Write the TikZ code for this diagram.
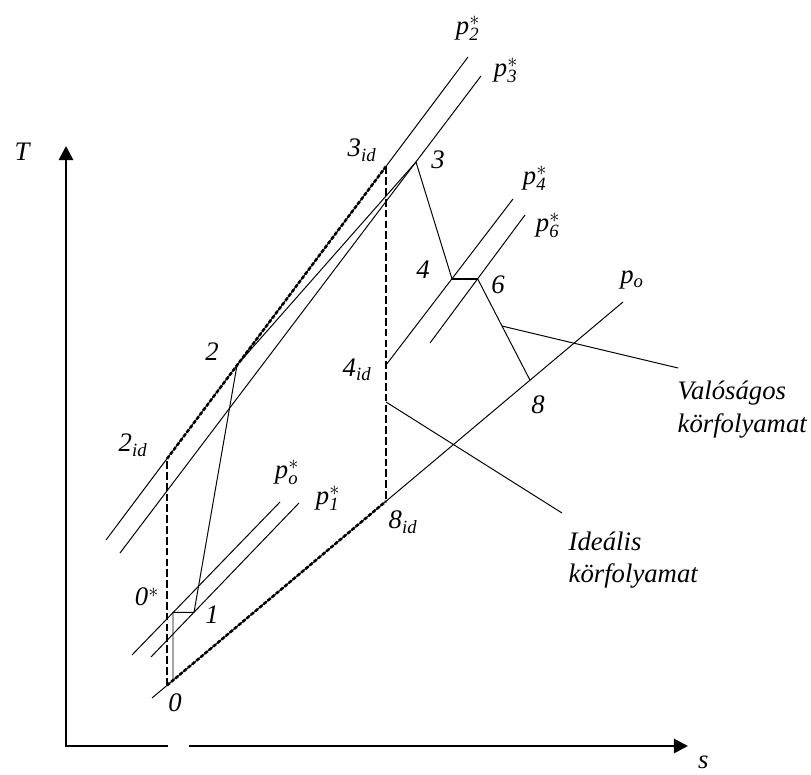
\documentclass[tikz,border=0pt]{standalone}
\usepackage{fontspec}
\setmainfont{Liberation Serif}
\usepackage{tikz}
\usetikzlibrary{arrows.meta,calc}

\newcommand{\idpt}[1]{$\mathit{#1}_{\mathit{id}}$}
\newcommand{\pstar}[1]{$\mathit{p}^{*}_{\mathit{#1}}$}

\begin{document}
\begin{tikzpicture}[
    iso/.style={line width=0.7pt},
    ideal/.style={line width=1.7pt, dash pattern=on 5.5pt off 2.2pt},
    idealiso/.style={line width=1.8pt, dash pattern=on 2.6pt off 1.3pt},
    axisline/.style={line width=2pt},
    lbl/.style={font=\fontsize{19}{23}\selectfont\itshape, inner sep=1pt}]
  \useasboundingbox (-1.65,-0.7) rectangle (18.625,18.65);
  % Axes
  \coordinate (O) at (0,0);
  \draw[axisline, {Triangle[length=10pt,width=10pt]}-] (0,15.0) -- (O) -- (2.55,0);
  \draw[axisline, -{Triangle[length=10pt,width=10pt]}] (3.075,0) -- (15.55,0);
  \node[lbl] (Tlab) at (-1.1,14.85) {T};
  \node[lbl, inner sep=0pt] (slab) at (15.93,-0.4) {s};
  % State points
  \coordinate (P0) at (2.525,1.515);
  \coordinate (P0s) at (2.675,1.641);
  \coordinate (P0st) at (2.675,3.34);
  \coordinate (P1) at (3.2,3.34);
  \coordinate (P2id) at (2.525,7.18);
  \coordinate (P2) at (4.275,9.52);
  \coordinate (P3id) at (8.0,14.49);
  \coordinate (P3) at (8.75,14.6);
  \coordinate (P4id) at (8.0,9.525);
  \coordinate (P4) at (9.649,11.68);
  \coordinate (P6) at (10.29,11.68);
  \coordinate (P8id) at (8.0,6.12);
  \coordinate (P8) at (11.6,9.145);
  % Isobars
  \draw[iso] (2.15,1.2) -- (13.925,11.1) coordinate (poend);
  \draw[iso] (1.0,5.15) -- (10.05,17.225) coordinate (p2end);
  \draw[iso] (1.35,4.825) -- (10.375,16.75) coordinate (p3end);
  \draw[iso] (1.65,2.275) -- (5.35,6.1) coordinate (p0end);
  \draw[iso] (2.125,2.225) -- (5.825,6.075) coordinate (p1end);
  \draw[iso] (P4id) -- (11.175,13.675) coordinate (p4end);
  \draw[iso] (9.1,10.075) -- (11.475,13.275) coordinate (p6end);
  % Real cycle
  \draw[iso] (P0s) -- (P0st) -- (P1) -- (P2) -- (P3) -- (P4);
  \draw[line width=1.2pt] (P4) -- (P6);
  \draw[iso] (P6) -- (P8);
  % Ideal cycle
  \draw[ideal] (P0) -- (P2id);
  \draw[ideal] (P3id) -- (P8id);
  \draw[idealiso] (P2id) -- (P3id);
  \draw[idealiso] (P0) -- (P8id);
  % Leaders
  \coordinate (real) at ($(P6)!0.466!(P8)$);
  \coordinate (realend) at (15.3,9.45);
  \coordinate (ideal) at (8.0,8.6);
  \coordinate (idealend) at (12.4,5.825);
  \draw[iso] (real) -- (realend);
  \draw[iso] (ideal) -- (idealend);
  % Labels
  \node[lbl] (l0) at (2.725,1.075) {$\mathit{0}$};
  \node[lbl] (l0st) at (2.025,3.725) {$\mathit{0}^{*}$};
  \node[lbl] (l1) at (3.65,3.275) {$\mathit{1}$};
  \node[lbl] (l2id) at (1.675,7.525) {\idpt{2}};
  \node[lbl] (l2) at (3.65,9.85) {$\mathit{2}$};
  \node[lbl] (l3id) at (7.4,14.9) {\idpt{3}};
  \node[lbl] (l3) at (9.3,14.65) {$\mathit{3}$};
  \node[lbl] (l4) at (8.925,11.9) {$\mathit{4}$};
  \node[lbl] (l6) at (10.8,11.525) {$\mathit{6}$};
  \node[lbl] (l4id) at (7.275,9.4) {\idpt{4}};
  \node[lbl] (l8id) at (8.425,5.6) {\idpt{8}};
  \node[lbl] (l8) at (11.8,8.525) {$\mathit{8}$};
  \node[lbl] (lpo) at (14.15,11.65) {$\mathit{p}_{\mathit{o}}$};
  \node[lbl] (lp2) at (10.05,17.95) {\pstar{2}};
  \node[lbl] (lp3) at (11.0,16.9) {\pstar{3}};
  \node[lbl] (lp4) at (11.725,14.2) {\pstar{4}};
  \node[lbl] (lp6) at (12.05,13.025) {\pstar{6}};
  \node[lbl] (lp0) at (5.525,6.85) {\pstar{o}};
  \node[lbl] (lp1) at (6.55,6.2) {\pstar{1}};
  \node[lbl, anchor=west, align=left] (vlab) at (15.25,8.41) {Valóságos\\körfolyamat};
  \node[lbl, anchor=west, align=left] (ilab) at (12.525,4.65) {Ideális\\körfolyamat};
\end{tikzpicture}
\end{document}
